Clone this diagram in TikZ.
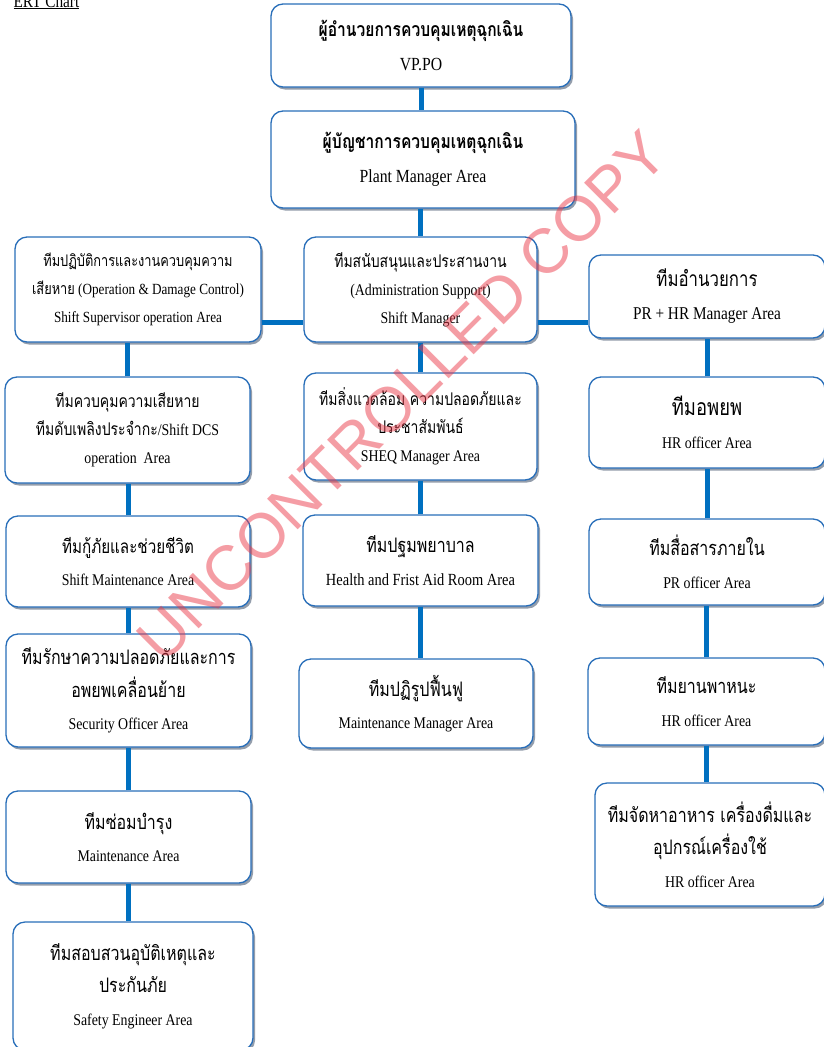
\documentclass[tikz,border=0pt]{standalone}
\usepackage{fontspec}
\setmainfont{Liberation Serif}[FakeStretch=0.85]
\newfontfamily\thaifont[Script=Thai,FakeStretch=0.8]{Loma}
\newfontfamily\markfont{Liberation Sans}
\usepackage{xcolor}
\definecolor{BoxBlue}{RGB}{40,110,185}
\definecolor{LinkBlue}{RGB}{0,112,192}
\definecolor{ShadowGrey}{RGB}{120,132,150}
\definecolor{MarkRed}{RGB}{235,60,75}
\usepackage{tikz}
\usetikzlibrary{shadows}
\tikzstyle{Unit}=[rectangle,rounded corners=12pt,draw=BoxBlue,line width=1.3pt,
fill=white,align=center,inner sep=2pt,
drop shadow={shadow xshift=2pt,shadow yshift=-2.5pt,fill=ShadowGrey,opacity=.8}]
\tikzstyle{UnitS}=[Unit,font=\fontsize{16.3}{28}\selectfont]
\tikzstyle{UnitT}=[Unit,font=\fontsize{16.3}{32.5}\selectfont]
\tikzstyle{UnitH}=[Unit,font=\fontsize{18.5}{34}\selectfont]
\tikzstyle{Link}=[draw=LinkBlue,line width=5pt]
\tikzstyle{Mark}=[text=MarkRed,opacity=.5,font=\markfont\fontsize{63}{63}\selectfont]
\newcommand{\ThH}{\thaifont\bfseries\fontsize{19.5}{34}\selectfont}
\newcommand{\ThS}{\thaifont\fontsize{17.5}{28}\selectfont}
\newcommand{\ThN}{\thaifont\fontsize{20}{32.5}\selectfont}
\newcommand{\ThR}{\thaifont\fontsize{21}{32.5}\selectfont}

\begin{document}
\begin{tikzpicture}[x=1pt,y=-1pt]
    \useasboundingbox (0,0) rectangle (823,1047);
    \node[anchor=base west,font=\fontsize{18}{18}\selectfont](title)at(10,7)
        {\underline{ERT Chart}};
    % top of the chart
    \node[UnitH,minimum width=300,minimum height=83](B1)at(421,45.5)
        {{\ThH ผู้อำนวยการควบคุมเหตุฉุกเฉิน}\\VP.PO};
    \node[UnitH,minimum width=304,minimum height=97](B2)at(423,159.5)
        {{\ThH ผู้บัญชาการควบคุมเหตุฉุกเฉิน}\\Plant Manager Area};
    % left column
    \node[UnitS,font=\fontsize{15.5}{28}\selectfont,
        minimum width=246,minimum height=105](L1)at(138,289.5)
        {{\ThS\fontsize{16}{28}\selectfont ทีมปฏิบัติการและงานควบคุมความ}\\
         {\ThS\fontsize{16}{28}\selectfont เสียหาย} (Operation \& Damage Control)\\
         Shift Supervisor operation Area};
    \node[UnitS,minimum width=245,minimum height=106](L2)at(127.5,430)
        {{\ThS ทีมควบคุมความเสียหาย}\\
         {\ThS ทีมดับเพลิงประจำกะ}/Shift DCS\\
         operation\ \ Area};
    \node[UnitT,minimum width=244,minimum height=91](L3)at(128,561.5)
        {{\ThN\fontsize{19}{32.5}\selectfont ทีมกู้ภัยและช่วยชีวิต}\\
         Shift Maintenance Area};
    \node[UnitT,minimum width=245,minimum height=113](L4)at(128.5,690.5)
        {{\ThN ทีมรักษาความปลอดภัยและการ}\\
         {\ThN อพยพเคลื่อนย้าย}\\
         Security Officer Area};
    \node[UnitT,minimum width=245,minimum height=92](L5)at(128.5,837)
        {{\ThN ทีมซ่อมบำรุง}\\Maintenance Area};
    \node[UnitT,minimum width=240,minimum height=128](L6)at(133,986)
        {{\ThN ทีมสอบสวนอุบัติเหตุและ}\\
         {\ThN ประกันภัย}\\
         Safety Engineer Area};
    % middle column
    \node[UnitS,minimum width=233,minimum height=105](M1)at(420.5,289.5)
        {{\ThS ทีมสนับสนุนและประสานงาน}\\
         (Administration Support)\\
         Shift Manager};
    \node[UnitS,minimum width=233,minimum height=107](M2)at(420.5,426.5)
        {{\ThS ทีมสิ่งแวดล้อม ความปลอดภัยและ}\\
         {\ThS ประชาสัมพันธ์}\\
         SHEQ Manager Area};
    \node[UnitT,minimum width=235,minimum height=91](M3)at(420.5,560.5)
        {{\ThN ทีมปฐมพยาบาล}\\
         {\fontsize{17}{32.5}\selectfont Health and Frist Aid Room Area}};
    \node[UnitT,minimum width=234,minimum height=89](M4)at(416,703.5)
        {{\ThN ทีมปฏิรูปฟื้นฟู}\\Maintenance Manager Area};
    % right column
    \node[UnitT,font=\fontsize{18}{33}\selectfont,
        minimum width=236,minimum height=83](R1)at(707,296.5)
        {{\ThR ทีมอำนวยการ}\\PR + HR Manager Area};
    \node[UnitT,minimum width=236,minimum height=91](R2)at(707,422.5)
        {{\ThR\fontsize{23}{32.5}\selectfont ทีมอพยพ}\\HR officer Area};
    \node[UnitT,minimum width=236,minimum height=86](R3)at(707,562)
        {{\ThN ทีมสื่อสารภายใน}\\PR officer Area};
    \node[UnitT,minimum width=237,minimum height=87](R4)at(706.5,701.5)
        {{\ThN ทีมยานพาหนะ}\\HR officer Area};
    \node[UnitT,minimum width=230,minimum height=123](R5)at(710,844.5)
        {{\ThN ทีมจัดหาอาหาร เครื่องดื่มและ}\\
         {\ThN อุปกรณ์เครื่องใช้}\\
         HR officer Area};
    % links
    \coordinate(hbar)at(0,322);
    \draw[Link](B1.south)--(B1.south|-B2.north);
    \draw[Link](M1.north)--(M1.north|-B2.south);
    \draw[Link](L1.east|-hbar)--(M1.west|-hbar);
    \draw[Link](M1.east|-hbar)--(R1.west|-hbar);
    \draw[Link](L2.north)--(L2.north|-L1.south);
    \draw[Link](L3.north)--(L3.north|-L2.south);
    \draw[Link](L4.north)--(L4.north|-L3.south);
    \draw[Link](L5.north)--(L5.north|-L4.south);
    \draw[Link](L5.south)--(L5.south|-L6.north);
    \draw[Link](M2.north)--(M2.north|-M1.south);
    \draw[Link](M3.north)--(M3.north|-M2.south);
    \draw[Link](M3.south)--(M3.south|-M4.north);
    \draw[Link](R2.north)--(R2.north|-R1.south);
    \draw[Link](R3.north)--(R3.north|-R2.south);
    \draw[Link](R4.north)--(R4.north|-R3.south);
    \draw[Link](R4.south)--(R4.south|-R5.north);
    % watermark
    \node[Mark,rotate=45](mark)at(402,396){UNCONTROLLED COPY};
\end{tikzpicture}
\end{document}
